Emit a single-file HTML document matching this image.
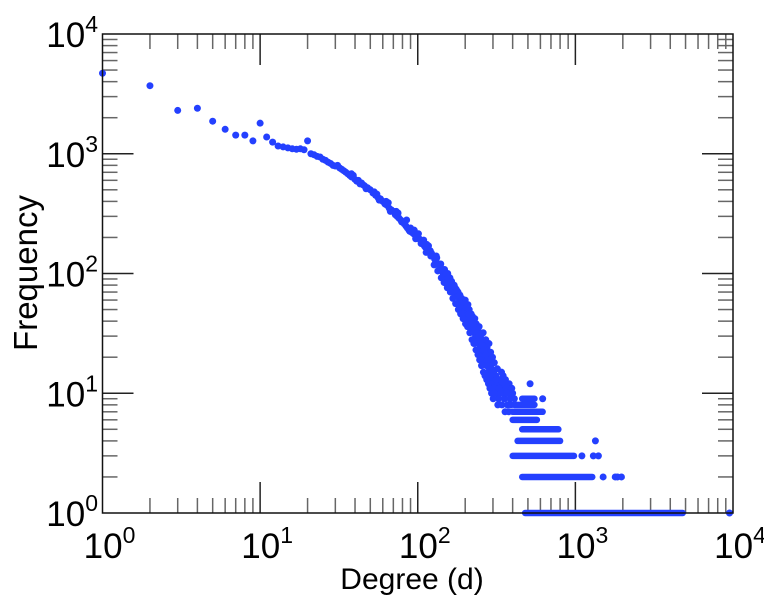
<!DOCTYPE html>
<html><head><meta charset="utf-8"><style>
html,body{margin:0;padding:0;background:#fff;}
svg{display:block;font-family:"Liberation Sans",sans-serif;}
</style></head><body>
<svg id="chart" width="764" height="600" viewBox="0 0 764 600" xmlns="http://www.w3.org/2000/svg">
<g id="ticks"></g>
<g id="marks"></g>
<rect x="102.5" y="34" width="630.5" height="479" fill="none" stroke="#111" stroke-width="1.5"/>
<g id="labels" font-size="35" fill="#000"></g>
<text x="412" y="589" font-size="30" text-anchor="middle">Degree (d)</text>
<text x="0" y="0" font-size="33" text-anchor="middle" transform="translate(37,273) rotate(-90)">Frequency</text>
</svg>
<script>
const xDecades = [0, 1, 2, 3, 4];
const yDecades = [0, 1, 2, 3, 4];
const scatterDegree = [1,2,3,4,5,6,7,8,9,10,11,12,13,14,15,16,17,18,19,20,21,22,23,24,25,26,27,28,29,30,32,33,34,35,36,37,38,39,40,41,42,44,45,46,48,50,52,54,55,56,58,60,62,64,65,66,68,70,72,74,75,76,78,80,82,84,85,86,88,90,92,94,95,96,98,
100,102,104,106,108,110,112,114,116,118,120,122,125,128,130,132,135,138,140,142,145,148,150,152,155,158,160,163,165,168,170,172,175,178,180,183,185,188,190,192,195,198,200,202,205,208,210,212,215,218,220,222,225,228,230,233,235,238,240,243,245,248,250,252,255,258,260,263,265,268,270,273,275,278,280,283,285,288,290,293,295,298,300,303,306,310,313,316,320,323,326,330,335,340,345,350,355,360,365,370,375,380,385,395,400,410,516,620,1340,1100,1300,1400,1500,1790,1850,1960,9500,
31,38,43,47,53,57,63,67,73,79,83,89,93,97,101,105,109,113,117,121,124,127,131,134,137,141,144,147,151,154,157,161,164,167,171,174,177,181,184,187,191,194,197,201,204,207,211,214,217,221,224,227,231,234,237,241,244,247,251,254,257,261,264,267,271,274,277,281,284,287,291,294,297,301,305,309,315,322,328,334,342,348,358,368,378,390];
const scatterFreq = [4700,3700,2300,2400,1870,1600,1430,1430,1280,1800,1380,1250,1160,1140,1120,1100,1090,1100,1080,1280,1000,980,950,940,900,880,850,830,800,790,760,740,720,700,680,660,640,660,610,590,600,570,550,540,520,500,470,450,460,430,420,400,380,370,390,350,340,330,310,300,320,290,280,270,260,250,280,240,230,240,220,215,230,210,215,
205,195,190,185,180,170,165,175,160,150,155,148,140,132,125,135,118,112,120,105,100,108,95,88,100,85,92,78,82,72,80,68,74,64,70,58,66,55,62,52,58,48,60,52,45,55,42,50,38,46,35,44,40,32,42,30,38,28,34,26,36,24,30,22,28,20,32,25,18,22,28,17,24,15,20,26,14,18,22,13,16,20,12,15,18,11,14,10,16,12,9,13,11,15,10,12,9,13,11,8,10,12,9,11,10,9,12,9,4,3,3,3,2,2,2,2,1,
800,680,560,510,480,410,400,330,330,270,270,225,230,195,215,178,190,150,170,140,142,118,140,105,120,92,108,84,100,76,92,70,86,62,78,56,72,50,66,46,60,42,56,38,52,36,46,32,42,28,38,26,34,23,32,21,30,19,27,17,25,15,23,14,21,13,19,12,17,11,16,10,15,9,11,10,13,8,11,10,8,14,7,10,7,8];
const rowLevels = [9, 8, 7, 6, 5, 4, 3, 2, 1];
const rowStart = [460, 410, 400, 400, 460, 430, 400, 460, 480];
const rowEnd = [550, 550, 620, 570, 780, 800, 980, 1280, 4800];

const X0 = 102.5, X1 = 733, Y0 = 513, Y1 = 34;
const xScale = d => X0 + (Math.log10(d) - 0) / 4 * (X1 - X0);
const yScale = f => Y0 - (Math.log10(f) - 0) / 4 * (Y0 - Y1);
const NS = 'http://www.w3.org/2000/svg';
const color = '#2440ff';
const marks = document.getElementById('marks');
const ticks = document.getElementById('ticks');
const labels = document.getElementById('labels');

function line(x1, y1, x2, y2, stroke) {
  const l = document.createElementNS(NS, 'line');
  l.setAttribute('x1', x1); l.setAttribute('y1', y1);
  l.setAttribute('x2', x2); l.setAttribute('y2', y2);
  l.setAttribute('stroke', stroke); l.setAttribute('stroke-width', 1.5);
  ticks.appendChild(l);
  return l;
}

for (let i = 0; i < xDecades.length; i++) {
  const dec = xDecades[i];
  for (let m = 1; m <= 9; m++) {
    if (dec === 4 && m > 1) break;
    const x = xScale(m * Math.pow(10, dec));
    const len = m === 1 ? 31 : 15;
    const col = m === 1 ? '#222' : '#666';
    if (x > X0 + 1 && x < X1 - 1) {
      const t1 = line(x, Y0, x, Y0 - len, col);
      
      
      const t2 = line(x, Y1, x, Y1 + len, col);
      
      
    }
  }
}
for (let i = 0; i < yDecades.length; i++) {
  const dec = yDecades[i];
  for (let m = 1; m <= 9; m++) {
    if (dec === 4 && m > 1) break;
    const y = yScale(m * Math.pow(10, dec));
    const len = m === 1 ? 31 : 15;
    const col = m === 1 ? '#222' : '#666';
    if (y < Y0 - 1 && y > Y1 + 1) {
      const t1 = line(X0, y, X0 + len, y, col);
      
      
      const t2 = line(X1, y, X1 - len, y, col);
      
      
    }
  }
}

function powLabel(x, y, exp, anchor) {
  const t = document.createElementNS(NS, 'text');
  t.setAttribute('x', x); t.setAttribute('y', y);
  t.setAttribute('text-anchor', anchor);
  const a = document.createElementNS(NS, 'tspan'); a.textContent = '10';
  const b = document.createElementNS(NS, 'tspan'); b.textContent = String(exp);
  b.setAttribute('dy', '-15'); b.setAttribute('font-size', '23');
  t.appendChild(a); t.appendChild(b);
  labels.appendChild(t);
  return t;
}
for (let i = 0; i < xDecades.length; i++) {
  const t = powLabel(xScale(Math.pow(10, xDecades[i])) + 7, 558, xDecades[i], 'middle');
  
  
}
for (let i = 0; i < yDecades.length; i++) {
  const t = powLabel(98, yScale(Math.pow(10, yDecades[i])) + 13, yDecades[i], 'end');
  
  
}

for (let i = 0; i < rowLevels.length; i++) {
  const y = yScale(rowLevels[i]);
  const l = document.createElementNS(NS, 'line');
  l.setAttribute('x1', xScale(rowStart[i])); l.setAttribute('x2', xScale(rowEnd[i]));
  l.setAttribute('y1', y); l.setAttribute('y2', y);
  l.setAttribute('stroke', color); l.setAttribute('stroke-width', 6.5);
  l.setAttribute('stroke-linecap', 'round');
  
  
  marks.appendChild(l);
}
for (let i = 0; i < scatterDegree.length; i++) {
  const c = document.createElementNS(NS, 'circle');
  c.setAttribute('cx', xScale(scatterDegree[i]));
  c.setAttribute('cy', yScale(scatterFreq[i]));
  c.setAttribute('r', 3.5);
  c.setAttribute('fill', color);
  
  
  marks.appendChild(c);
}
</script>
</body></html>
